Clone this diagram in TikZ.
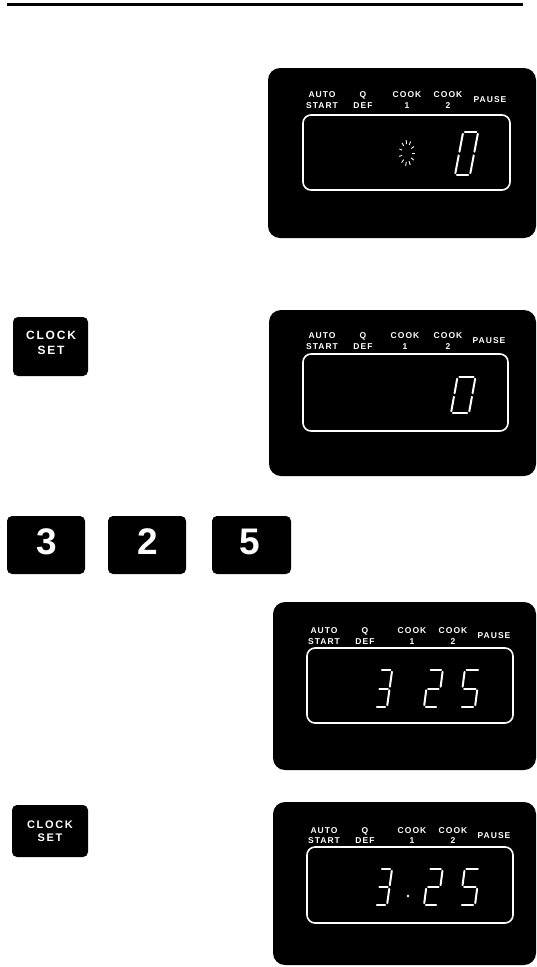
\documentclass[tikz,border=0pt]{standalone}
\usepackage{fontspec}
\newfontfamily\labfont[LetterSpace=12]{Liberation Sans}
\newfontfamily\btnfont[LetterSpace=15]{Liberation Sans}
\newfontfamily\numfont{Liberation Sans}
\tikzset{
  lbl/.style={text=white, font=\labfont\bfseries\fontsize{8.5}{10.5}\selectfont, align=center, inner sep=0pt},
  keybox/.style={fill=black, rounded corners=5pt, inner sep=0pt},
  keytext/.style={text=white, align=center, inner sep=0pt},
  numtext/.style={text=white, inner sep=0pt, font=\numfont\bfseries\fontsize{37}{37}\selectfont},
  dispbox/.style={fill=black, rounded corners=12pt},
  window/.style={draw=white, line width=1.6pt, rounded corners=8pt},
  seg/.style={white, line width=2pt, line cap=round},
}
\newcommand\sdig[6]{\begin{scope}[shift={(#1,#2)},x={(1pt,0pt)},y={(#5pt,1pt)}]\def\dW{#3}\def\dH{#4}#6\end{scope}}
\newcommand\SA{\draw[seg] (1.8,\dH)--(\dW-1.8,\dH);}
\newcommand\SB{\draw[seg] (\dW,\dH-1.8)--(\dW,\dH/2+1.8);}
\newcommand\SC{\draw[seg] (\dW,\dH/2-1.8)--(\dW,1.8);}
\newcommand\SD{\draw[seg] (1.8,0)--(\dW-1.8,0);}
\newcommand\SE{\draw[seg] (0,1.8)--(0,\dH/2-1.8);}
\newcommand\SF{\draw[seg] (0,\dH/2+1.8)--(0,\dH-1.8);}
\newcommand\SG{\draw[seg] (1.8,\dH/2)--(\dW-1.8,\dH/2);}
\newcommand\dlabels[7]{%
  \node[lbl] (#1auto) at (#3,#2) {AUTO\\START};
  \node[lbl] (#1q) at (#4,#2) {Q\\DEF};
  \node[lbl] (#1ca) at (#5,#2) {COOK\\1};
  \node[lbl] (#1cb) at (#6,#2) {COOK\\2};
  \node[lbl] (#1p) at (#7,#2) {PAUSE};}
\begin{document}
\begin{tikzpicture}[x=1pt,y=-1pt]
\useasboundingbox (0,0) rectangle (537,967);
% top rule
\draw[line width=2.5pt] (7,4.5) -- (523,4.5);

% display 1
\fill[dispbox] (268,68) rectangle (536,238);
\draw[window] (303,115) rectangle (510,190);
\dlabels{da}{100}{322}{363}{407}{448}{490}
\sdig{455}{175}{15}{43}{0.19}{\SA\SB\SC\SD\SE\SF}
\foreach \a in {0,33,...,330}
  \draw[white, line width=0.9pt] ([shift={(\a:5 and 9)}]407,153) -- ([shift={(\a:8 and 13)}]407,153);

% clock set 1
\node[keybox, minimum width=75pt, minimum height=59pt] (clk1) at (50.5,346.5) {};
\node[keytext, font=\btnfont\bfseries\fontsize{12}{15}\selectfont] (clk1t) at (51,342.5) {CLOCK\\SET};

% display 2
\fill[dispbox] (269,310) rectangle (536,476);
\draw[window] (303,354) rectangle (508,431);
\dlabels{db}{341}{322}{363}{405}{448}{489}
\sdig{451}{413}{18}{36}{0.18}{\SA\SB\SC\SD\SE\SF}

% number keys
\node[keybox, minimum width=78pt, minimum height=58pt] (k3) at (46,545) {};
\node[keybox, minimum width=78pt, minimum height=58pt] (k2) at (147,545) {};
\node[keybox, minimum width=79pt, minimum height=58pt] (k5) at (251.5,545) {};
\node[numtext] (k3t) at (47,542) {3};
\node[numtext] (k2t) at (148,542) {2};
\node[numtext] (k5t) at (250,542) {5};

% display 3
\fill[dispbox] (273,602) rectangle (536,770);
\draw[window] (307,648) rectangle (513,723);
\dlabels{dc}{636}{324}{365}{412}{453}{494}
\sdig{375}{707}{12}{37}{0.14}{\SA\SB\SC\SD\SG}
\sdig{424}{707}{14}{37}{0.13}{\SA\SB\SG\SE\SD}
\sdig{460}{707}{15}{37}{0.13}{\SA\SF\SG\SC\SD}

% clock set 2
\node[keybox, minimum width=76pt, minimum height=52pt] (clk2) at (50,831) {};
\node[keytext, font=\btnfont\bfseries\fontsize{11}{13}\selectfont] (clk2t) at (50,831.5) {CLOCK\\SET};

% display 4
\fill[dispbox] (273,802) rectangle (536,965);
\draw[window] (307,847) rectangle (513,923);
\dlabels{dd}{835.5}{324}{365}{412}{453}{494}
\sdig{375}{905}{12}{36}{0.14}{\SA\SB\SC\SD\SG}
\fill[white] (408,896) circle (1.3);
\sdig{424}{905}{14}{36}{0.13}{\SA\SB\SG\SE\SD}
\sdig{460}{905}{15}{36}{0.13}{\SA\SF\SG\SC\SD}
\end{tikzpicture}
\end{document}
